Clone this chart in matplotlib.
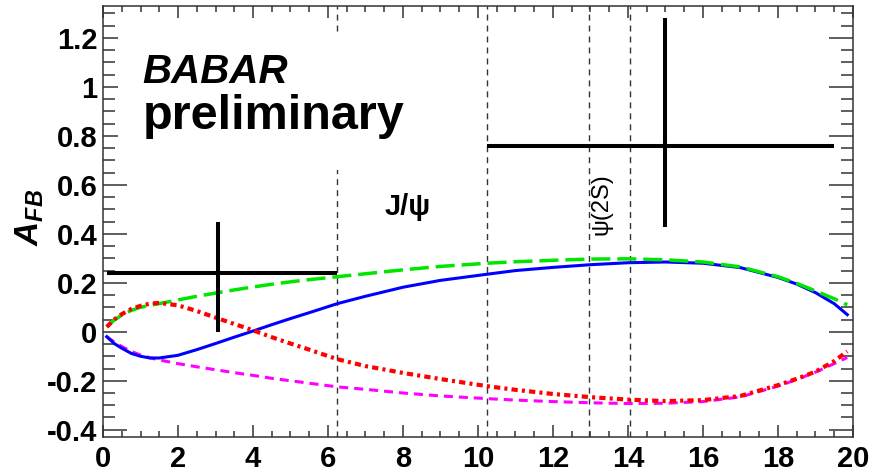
import numpy as np
import matplotlib.pyplot as plt
from matplotlib.ticker import MultipleLocator
from matplotlib.patches import Rectangle

plt.rcParams['font.family'] = ['Liberation Sans', 'DejaVu Sans']
plt.rcParams['mathtext.fontset'] = 'custom'
plt.rcParams['mathtext.it'] = 'Liberation Sans:italic:bold'
plt.rcParams['mathtext.rm'] = 'Liberation Sans:bold'
plt.rcParams['lines.scale_dashes'] = False

# measured A_FB in two q^2 bins
bin_lo = [0.1, 10.24]
bin_hi = [6.25, 19.5]
bin_x = [3.07, 15.0]
afb = [0.24, 0.76]
afb_up = [0.21, 0.52]
afb_dn = [0.24, 0.33]

# model predictions vs q^2
q2 = [0.1, 0.3, 0.5, 0.75, 1.0, 1.25, 1.5, 2.0, 2.5, 3.0, 3.5, 4.0, 4.5, 5.0, 5.5,
      6.25, 7.0, 8.0, 9.0, 10.24, 11.0, 12.0, 13.0, 14.0, 15.0, 16.0, 17.0,
      18.0, 18.5, 19.0, 19.5, 19.85]
sm = [-0.02, -0.048, -0.067, -0.088, -0.1, -0.107, -0.107, -0.096, -0.073, -0.048,
      -0.022, 0.003, 0.029, 0.054, 0.078, 0.115, 0.145, 0.182, 0.21, 0.235,
      0.25, 0.263, 0.274, 0.282, 0.285, 0.28, 0.262, 0.222, 0.195, 0.16, 0.115, 0.07]
green = [0.02, 0.048, 0.068, 0.087, 0.1, 0.108, 0.115, 0.13, 0.145, 0.158,
         0.171, 0.183, 0.194, 0.204, 0.213, 0.225, 0.237, 0.253, 0.267, 0.28,
         0.286, 0.292, 0.297, 0.298, 0.294, 0.285, 0.265, 0.225, 0.198, 0.167, 0.135, 0.11]
red = [0.02, 0.05, 0.072, 0.093, 0.106, 0.115, 0.118, 0.108, 0.085, 0.058,
       0.032, 0.006, -0.022, -0.048, -0.073, -0.112, -0.14, -0.168, -0.193, -0.222,
       -0.237, -0.254, -0.267, -0.277, -0.283, -0.279, -0.262, -0.218, -0.192, -0.163, -0.12, -0.08]
magenta = [-0.02, -0.042, -0.06, -0.08, -0.095, -0.106, -0.115, -0.13, -0.143, -0.155,
           -0.167, -0.178, -0.19, -0.2, -0.21, -0.225, -0.235, -0.25, -0.262, -0.273,
           -0.279, -0.285, -0.29, -0.293, -0.292, -0.285, -0.266, -0.222, -0.195, -0.165, -0.13, -0.105]

# charmonium veto boundaries
vetoes = [6.25, 10.24, 12.96, 14.06]

fig = plt.figure(figsize=(8.73, 4.72), dpi=100)
ax = fig.add_axes([0.118, 0.074, 0.859, 0.913])

ax.set_xlim(0, 20)
ax.set_ylim(-0.43, 1.33)

for v in vetoes:
    ax.axvline(v, color='#333333', lw=1.0, dashes=(4.3, 3.6), zorder=1)

ax.plot(q2, magenta, color='#ff00ff', lw=2.2, dashes=(6.5, 4.3), zorder=2)
ax.plot(q2, sm, color='#0000ff', lw=2.2, zorder=2)
ax.plot(q2, green, color='#00e600', lw=2.5, dashes=(13.7, 5.0), zorder=2)
ax.plot(q2, red, color='#ff0000', lw=3.0, dashes=(4.5, 3.0, 2.2, 3.0), zorder=2)

xerr = [np.subtract(bin_x, bin_lo), np.subtract(bin_hi, bin_x)]
ax.errorbar(bin_x, afb, xerr=xerr, yerr=[afb_dn, afb_up], fmt='none',
            ecolor='black', elinewidth=2.9, capsize=0, zorder=3)

# white panel behind the experiment label
ax.add_patch(Rectangle((0.4, 0.66), 9.07, 0.56, facecolor='white',
                       edgecolor='none', zorder=3.5))
ax.text(0.053, 0.822, 'BABAR', transform=ax.transAxes, fontsize=29,
        fontweight='bold', fontstyle='italic', zorder=4)
ax.text(0.053, 0.715, 'preliminary', transform=ax.transAxes, fontsize=35,
        fontweight='bold', zorder=4)

ax.text(8.13, 0.51, 'J/ψ', fontsize=21, fontweight='bold',
        ha='center', va='center')
ax.text(13.3, 0.52, 'ψ(2S)', fontsize=17, rotation=90,
        ha='center', va='center')

ax.text(-0.097, 0.51, '$A_{FB}$', transform=ax.transAxes, fontsize=24,
        rotation=90, ha='center', va='center')

ax.xaxis.set_minor_locator(MultipleLocator(0.5))
ax.yaxis.set_minor_locator(MultipleLocator(0.05))
ax.set_yticks(np.arange(-0.4, 1.21, 0.2))
ax.set_yticklabels(['-0.4', '-0.2', '0', '0.2', '0.4', '0.6', '0.8', '1', '1.2'])
ax.set_xticks(np.arange(0, 20.1, 2))
ax.set_xticklabels([str(v) for v in range(0, 21, 2)])

ax.tick_params(axis='both', which='both', direction='in', top=True, right=True,
               width=1.1, color='#333333', labelsize=21)
ax.tick_params(axis='x', which='major', length=8.6, pad=5.5)
ax.tick_params(axis='x', which='minor', length=4.3)
ax.tick_params(axis='y', which='major', length=17, pad=4)
ax.tick_params(axis='y', which='minor', length=8.6)
for lab in ax.get_xticklabels() + ax.get_yticklabels():
    lab.set_fontweight('bold')

for s in ax.spines.values():
    s.set_linewidth(1.1)
    s.set_color('#333333')

fig.savefig('out.png', dpi=100)
